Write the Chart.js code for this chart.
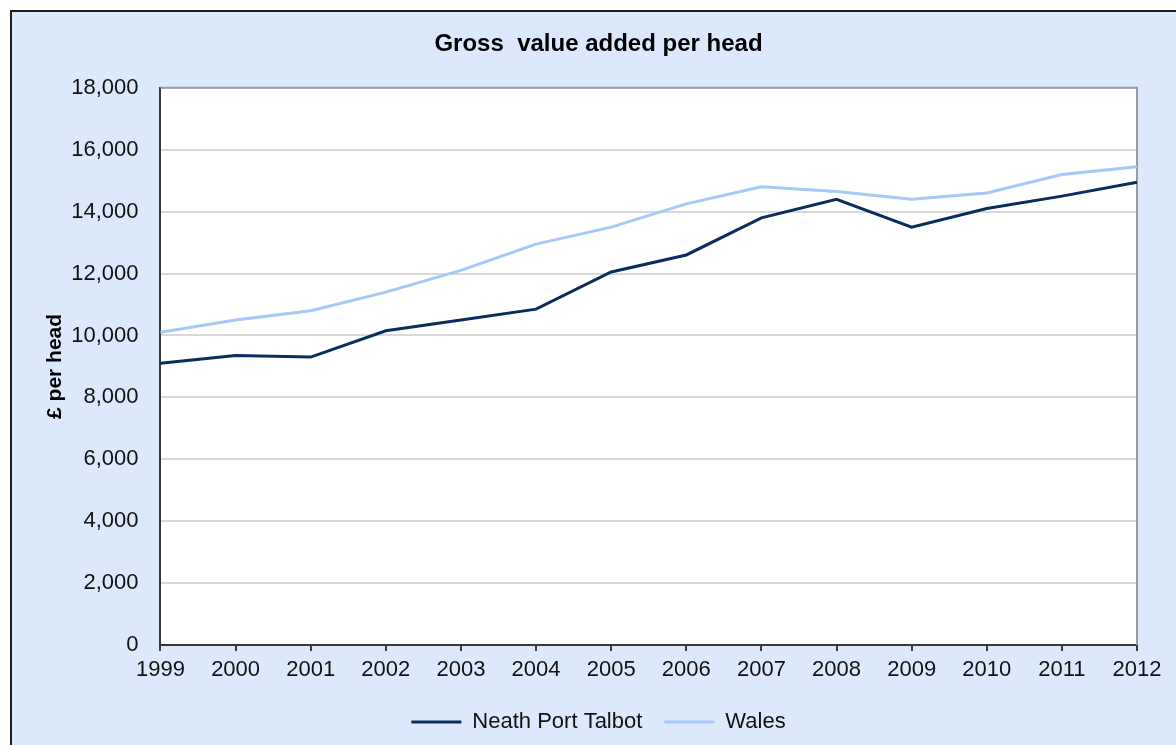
<!DOCTYPE html>
<html>
<head>
<meta charset="utf-8">
<script src="https://cdn.jsdelivr.net/npm/chart.js@4"></script>
<style>
  html, body { margin: 0; padding: 0; background: #fff; overflow: hidden; }
  .frame {
    position: absolute; left: 10px; top: 10px;
    border-left: 2px solid #1e1e1e; border-top: 2px solid #1e1e1e;
    background: #dce9fc; width: 1176px; height: 733px;
  }
  canvas { display: block; }
</style>
</head>
<body>
<div class="frame"><canvas class="main-canvas" width="1176" height="733"></canvas></div>
<script>
const years = ["1999", "2000", "2001", "2002", "2003", "2004", "2005", "2006", "2007", "2008", "2009", "2010", "2011", "2012"];
const neathPortTalbot = [9100, 9350, 9300, 10150, 10500, 10850, 12050, 12600, 13800, 14400, 13500, 14100, 14500, 14950];
const wales = [10100, 10500, 10800, 11400, 12100, 12950, 13500, 14250, 14800, 14650, 14400, 14600, 15200, 15450];
const yMin = 0;
const yMax = 18000;
const yStep = 2000;

const FONT = "'Liberation Sans', Arial, sans-serif";

// white plot area with a grey top/right edge, like the Excel original
const plotFrame = {
  id: "plotFrame",
  beforeDraw(chart) {
    const { ctx, chartArea: a } = chart;
    ctx.save();
    ctx.fillStyle = "#fff";
    ctx.fillRect(a.left, a.top, a.right - a.left, a.bottom - a.top);
    ctx.restore();
  },
  beforeDatasetsDraw(chart) {
    const { ctx, chartArea: a } = chart;
    ctx.save();
    ctx.strokeStyle = "#9a9a9a";
    ctx.lineWidth = 2;
    ctx.beginPath();
    ctx.moveTo(a.left, a.top);
    ctx.lineTo(a.right, a.top);
    ctx.lineTo(a.right, a.bottom);
    ctx.stroke();
    ctx.restore();
  },
};

const ctx = document.querySelector(".main-canvas").getContext("2d");

new Chart(ctx, {
  type: "line",
  data: {
    labels: years,
    datasets: [
      {
        label: "Neath Port Talbot",
        data: neathPortTalbot,
        borderColor: "#0b2d5c",
        backgroundColor: "#0b2d5c",
        borderWidth: 3,
        tension: 0,
        pointRadius: 0,
      },
      {
        label: "Wales",
        data: wales,
        borderColor: "#a6c9f8",
        backgroundColor: "#a6c9f8",
        borderWidth: 3,
        tension: 0,
        pointRadius: 0,
      },
    ],
  },
  options: {
    responsive: false,
    animation: false,
    layout: { padding: { left: 48, right: 51, top: 0, bottom: 2 } },
    plugins: {
      title: {
        display: true,
        text: "Gross  value added per head",
        color: "#000",
        font: { family: FONT, size: 24, weight: "bold" },
        padding: { top: 18, bottom: 29 },
      },
      legend: {
        position: "bottom",
        labels: {
          color: "#111",
          font: { family: FONT, size: 22 },
          usePointStyle: true,
          pointStyle: "line",
          pointStyleWidth: 50,
          padding: 22,
        },
      },
      tooltip: { enabled: false },
    },
    scales: {
      x: {
        offset: false,
        border: { color: "#3a3a3a", width: 2 },
        grid: { display: true, drawOnChartArea: false, drawTicks: true, tickLength: 6, color: "#3a3a3a", lineWidth: 2 },
        ticks: { color: "#111", font: { family: FONT, size: 22, lineHeight: 1 }, padding: 8, maxRotation: 0, autoSkip: false },
      },
      y: {
        min: yMin,
        max: yMax,
        border: { color: "#3a3a3a", width: 2 },
        grid: { color: "#d9d9d9", lineWidth: 2, drawTicks: false },
        ticks: {
          stepSize: yStep,
          color: "#111",
          font: { family: FONT, size: 22 },
          padding: 22,
          callback: (v) => v.toLocaleString("en-US"),
        },
        title: {
          display: true,
          text: "£ per head",
          color: "#000",
          font: { family: FONT, size: 21, weight: "bold" },
          padding: { top: -17, bottom: -19 },
        },
      },
    },
  },
  plugins: [plotFrame],
});
</script>
</body>
</html>
